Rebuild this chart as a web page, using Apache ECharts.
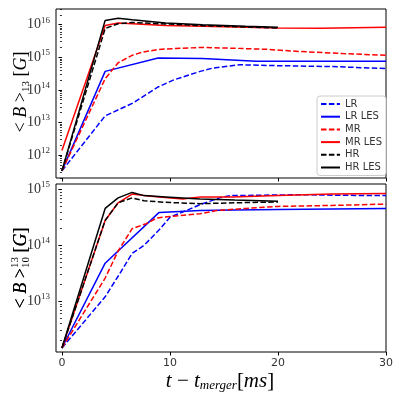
<!DOCTYPE html>
<html>
<head>
<meta charset="utf-8">
<title>B field</title>
<script src="https://cdn.jsdelivr.net/npm/echarts@6/dist/echarts.min.js"></script>
</head>
<body style="margin:0">
<div id="main" style="width:399px;height:399px;"></div>
<script>
const xTicks = [0, 10, 20, 30];
const topTicks = [1e12, 1e13, 1e14, 1e15, 1e16];
const botTicks = [1e13, 1e14, 1e15];
const names = ['LR', 'LR LES', 'MR', 'MR LES', 'HR', 'HR LES'];
const colors = ['#0000ff', '#0000ff', '#ff0000', '#ff0000', '#000000', '#000000'];
const dashed = [true, false, true, false, true, false];

// top panel, <B>_13 [G]
const tLR_top = [0, 4, 6.6, 8.9, 10.3, 12.8, 14, 16.5, 19, 22, 25, 30];
const bLR_top = [3.3e11, 1.6e13, 4.0e13, 1.23e14, 2.0e14, 3.7e14, 4.7e14, 5.9e14, 5.6e14, 5.4e14, 5.2e14, 4.5e14];
const tLRLES_top = [0, 4, 8.9, 13, 18, 24, 30];
const bLRLES_top = [3.3e11, 3.7e14, 9.5e14, 9.1e14, 7.6e14, 7.5e14, 7.5e14];
const tMR_top = [0, 4, 5.2, 6.5, 7.5, 8.8, 9.6, 12.8, 15.8, 19, 22, 26, 30];
const bMR_top = [3.3e11, 2.2e14, 6.8e14, 1.15e15, 1.45e15, 1.7e15, 1.8e15, 2.0e15, 1.9e15, 1.75e15, 1.5e15, 1.3e15, 1.15e15];
const tMRLES_top = [0, 4, 5.2, 9.6, 13, 17, 20, 24, 30];
const bMRLES_top = [1.4e12, 9.5e15, 1.12e16, 9.5e15, 8.9e15, 8.3e15, 7.9e15, 7.8e15, 8.3e15];
const tHR_top = [0, 4, 5.2, 6.5, 9.6, 13, 17, 20];
const bHR_top = [3.3e11, 7.6e15, 1.07e16, 1.17e16, 1.05e16, 9.3e15, 8.5e15, 7.9e15];
const tHRLES_top = [0, 4, 5.2, 6.5, 9.6, 13, 17, 20];
const bHRLES_top = [3.3e11, 1.35e16, 1.58e16, 1.41e16, 1.12e16, 1.0e16, 8.9e15, 8.3e15];

// bottom panel, <B>^13_10 [G]
const tLR_bot = [0, 4, 5.2, 6.5, 7.6, 9, 10, 11.5, 12.8, 14.6, 15.6, 18, 22, 26, 30];
const bLR_bot = [1.45e12, 1.2e13, 2.8e13, 7.2e13, 1.0e14, 1.9e14, 3.2e14, 4.2e14, 5.4e14, 7.1e14, 7.8e14, 7.9e14, 8.1e14, 7.9e14, 7.8e14];
const tLRLES_bot = [0, 4, 9, 12.8, 16, 20, 25, 30];
const bLRLES_bot = [1.45e12, 4.8e13, 3.9e14, 4.2e14, 4.3e14, 4.4e14, 4.5e14, 4.6e14];
const tMR_bot = [0, 4, 5.2, 6.5, 7.8, 8.8, 10, 12.8, 14.3, 17, 20, 25, 30];
const bMR_bot = [1.45e12, 2.6e13, 7.9e13, 2.0e14, 2.45e14, 3.1e14, 3.3e14, 3.7e14, 4.2e14, 4.6e14, 5.0e14, 5.2e14, 5.5e14];
const tMRLES_bot = [0, 4, 5.2, 6.5, 7.6, 9, 11.2, 12.8, 15.8, 20, 25, 30];
const bMRLES_bot = [1.45e12, 2.8e14, 5.8e14, 8.3e14, 7.8e14, 7.4e14, 6.8e14, 7.4e14, 7.4e14, 7.8e14, 8.3e14, 8.5e14];
const tHR_bot = [0, 4, 5.2, 6.5, 7.6, 9.6, 12.8, 16, 20];
const bHR_bot = [1.45e12, 2.8e14, 5.8e14, 7.1e14, 6.3e14, 5.9e14, 5.6e14, 5.8e14, 6.0e14];
const tHRLES_bot = [0, 4, 5.2, 6.5, 7.6, 9.6, 12.8, 16, 20];
const bHRLES_bot = [1.45e12, 4.6e14, 7.1e14, 8.9e14, 7.8e14, 7.4e14, 6.8e14, 6.5e14, 6.2e14];

const topData = [[tLR_top, bLR_top], [tLRLES_top, bLRLES_top], [tMR_top, bMR_top],
                 [tMRLES_top, bMRLES_top], [tHR_top, bHR_top], [tHRLES_top, bHRLES_top]];
const botData = [[tLR_bot, bLR_bot], [tLRLES_bot, bLRLES_bot], [tMR_bot, bMR_bot],
                 [tMRLES_bot, bMRLES_bot], [tHR_bot, bHR_bot], [tHRLES_bot, bHRLES_bot]];

const topRange = [Math.pow(10, 11.3), Math.pow(10, 16.48)];
const botRange = [Math.pow(10, 12.09), Math.pow(10, 15.1)];

function zip(t, v) {
    return t.map((x, i) => [x, v[i]]);
}

// minor log ticks 2..9 per decade
function minorTicks(d0, d1) {
    const out = [];
    for (let d = d0; d <= d1; d++) {
        for (let m = 2; m <= 9; m++) out.push(m * Math.pow(10, d));
    }
    return out;
}

const serif = 'Liberation Serif';
const tickRich = {
    b: {fontFamily: serif, fontSize: 14, color: '#333'},
    s: {fontFamily: serif, fontSize: 9, color: '#333', padding: [0, 0, 9, 0]}
};
function powLabel(v) {
    return '{b|10}{s|' + Math.round(Math.log10(v)) + '}';
}

function xAxisFor(idx, labels, show) {
    return {
        type: 'value', gridIndex: idx, min: -0.55, max: 30, show: show,
        splitLine: {show: false},
        axisLine: {show: false},
        axisTick: {show: true, length: 3.5, lineStyle: {color: '#000'}, customValues: xTicks},
        axisLabel: {show: labels, customValues: xTicks, margin: 6,
            fontFamily: 'DejaVu Sans', fontSize: 11, color: '#333'}
    };
}
function yAxisFor(idx, range, ticks) {
    return {
        type: 'log', logBase: 10, gridIndex: idx, min: range[0], max: range[1],
        splitLine: {show: false},
        axisLine: {show: false},
        axisTick: {show: true, length: 3.5, lineStyle: {color: '#000'}, customValues: ticks},
        axisLabel: {customValues: ticks, margin: 6, formatter: powLabel, rich: tickRich}
    };
}
function yMinorFor(idx, range, ticks) {
    return {
        type: 'log', logBase: 10, gridIndex: idx, min: range[0], max: range[1],
        splitLine: {show: false},
        axisLine: {show: false},
        axisTick: {show: true, length: 2, lineStyle: {color: '#000', width: 0.8}, customValues: ticks},
        axisLabel: {show: false}
    };
}

const series = [];
[topData, botData].forEach(function (set, g) {
    set.forEach(function (d, i) {
        series.push({
            name: names[i], type: 'line', xAxisIndex: g, yAxisIndex: g,
            data: zip(d[0], d[1]),
            symbol: 'none', showSymbol: false,
            color: colors[i],
            lineStyle: {color: colors[i], width: 1.5, type: dashed[i] ? [5.5, 2.4] : 'solid'}
        });
    });
});

// axis titles
const fs = 18;
const math = {
    r: {fontFamily: serif, fontSize: fs, color: '#222'},
    i: {fontFamily: serif, fontStyle: 'italic', fontSize: fs, color: '#222'},
    sub: {fontFamily: serif, fontSize: 11, color: '#222', padding: [10, 0, 0, 0]},
    sup: {fontFamily: serif, fontSize: 11, color: '#222', padding: [0, 0, 11, 0]}
};
const hidden = {};
Object.keys(math).forEach(function (k) {
    hidden[k] = Object.assign({}, math[k], {color: 'rgba(0,0,0,0)'});
});
hidden.sup = Object.assign({}, math.sup);

const topLabel = '{r|< }{i|B}{r| >}{sub|13}{r| [}{i|G}{r|]}';
const botLabel = '{r|< }{i|B}{r| >}{sub|10}{r| [}{i|G}{r|]}';
const botLabelSup = '{r|< }{i|B}{r| >}{sup|13}{r| [}{i|G}{r|]}';
const xLabel = '{i|t}{r| − }{i|t}{sm|merger}{r|[}{i|ms}{r|]}';

function vText(x, y, text, rich) {
    return {
        type: 'text', x: x, y: y, rotation: Math.PI / 2,
        style: {text: text, rich: rich, align: 'center', verticalAlign: 'middle'}
    };
}

const option = {
    animation: false,
    grid: [
        {left: 56, top: 9, width: 330, height: 169, show: true, borderColor: '#000', borderWidth: 1},
        {left: 56, top: 184, width: 330, height: 168, show: true, borderColor: '#000', borderWidth: 1},
        {left: 56, top: 9, width: 330, height: 169},
        {left: 56, top: 184, width: 330, height: 168}
    ],
    xAxis: [xAxisFor(0, false, true), xAxisFor(1, true, true), xAxisFor(2, false, false), xAxisFor(3, false, false)],
    yAxis: [
        yAxisFor(0, topRange, topTicks),
        yAxisFor(1, botRange, botTicks),
        yMinorFor(2, topRange, minorTicks(11, 16)),
        yMinorFor(3, botRange, minorTicks(12, 14))
    ],
    legend: {
        data: names, left: 317, top: 96, orient: 'vertical',
        itemWidth: 19, itemHeight: 10, itemGap: 2.7,
        padding: [3, 4, 3, 3],
        itemStyle: {opacity: 0},
        backgroundColor: '#fff', borderColor: '#ccc', borderWidth: 1, borderRadius: 3,
        textStyle: {fontFamily: 'DejaVu Sans', fontSize: 10, color: '#333'}
    },
    graphic: [
        vText(21, 92, topLabel, math),
        vText(21, 268, botLabel, math),
        vText(21, 268, botLabelSup, hidden),
        {
            type: 'text', x: 220, y: 381,
            style: {
                text: xLabel, align: 'center', verticalAlign: 'middle',
                rich: Object.assign({}, math, {
                    r: {fontFamily: serif, fontSize: 21, color: '#222'},
                    i: {fontFamily: serif, fontStyle: 'italic', fontSize: 21, color: '#222'},
                    sm: {fontFamily: serif, fontStyle: 'italic', fontSize: 13, color: '#222', padding: [9, 0, 0, 0]}
                })
            }
        }
    ],
    series: series
};

const myChart = echarts.init(document.getElementById('main'));
myChart.setOption(option);
</script>
</body>
</html>
